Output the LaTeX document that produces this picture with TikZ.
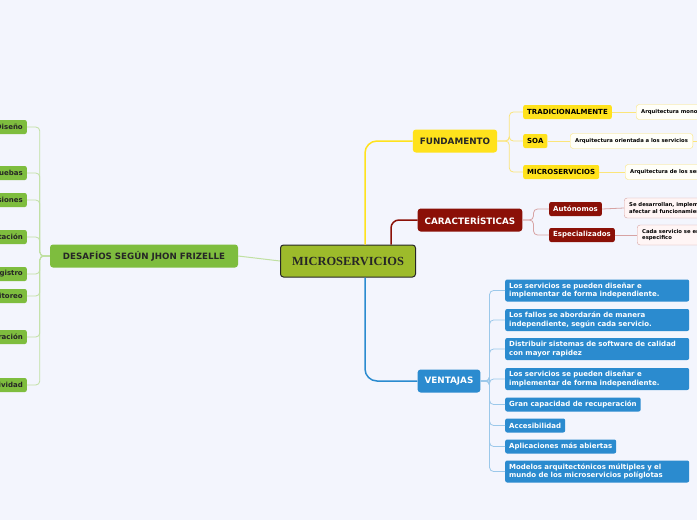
\documentclass[tikz,border=0pt]{standalone}
\usepackage{fontspec}
\setmainfont{DejaVu Sans}
\newfontfamily\rootfont{Liberation Serif}
\usetikzlibrary{positioning}
\definecolor{bg}{HTML}{F3F5FD}
\definecolor{rootgreen}{HTML}{9DBB2B}
\definecolor{fundyellow}{HTML}{FFE21C}
\definecolor{fundline}{HTML}{FBE57A}
\definecolor{caractred}{HTML}{8B1007}
\definecolor{caractline}{HTML}{D7A3A3}
\definecolor{ventblue}{HTML}{2B8BCF}
\definecolor{ventline}{HTML}{9BC8EA}
\definecolor{desafgreen}{HTML}{7EBD3E}
\definecolor{desafline}{HTML}{C0E0A2}

\begin{document}
\begin{tikzpicture}[
    x=1pt, y=-1pt,
    root/.style={draw=black!85, line width=1pt, fill=rootgreen, rounded corners=3pt, minimum width=135pt, minimum height=32pt, font=\rootfont\fontsize{12.4}{13}\selectfont\bfseries, text=black!85},
    topic/.style={rounded corners=3pt, minimum height=23pt, inner xsep=7pt, font=\fontsize{8.8}{10}\selectfont\bfseries},
    sub/.style={rounded corners=2pt, minimum height=14pt, inner xsep=4pt, inner ysep=1pt, font=\fontsize{7}{8.4}\selectfont\bfseries},
    leaf/.style={draw, rounded corners=3pt, inner xsep=5pt, inner ysep=2pt, minimum height=15pt, align=left, anchor=west, font=\fontsize{5.3}{6.3}\selectfont\bfseries},
    vbox/.style={sub, fill=ventblue, text=white, align=left, anchor=west, inner ysep=2pt},
    vwide/.style={vbox, text width=176pt, minimum height=22pt},
    gbox/.style={sub, fill=desafgreen, text=black!85, anchor=east},
    link/.style={line width=0.8pt, rounded corners=4pt},
    branch/.style={line width=1.5pt, rounded corners=12pt},
]
\fill[bg] (0,0) rectangle (697,520);
\clip (0,0) rectangle (697,520);

% Root and main topics
\node[root] (micro) at (348,261) {MICROSERVICIOS};
\node[topic, fill=fundyellow, text=black!85] (fund) at (455,141) {FUNDAMENTO};
\node[topic, fill=caractred, text=white] (caract) at (470,220) {CARACTERÍSTICAS};
\node[topic, fill=ventblue, text=white] (vent) at (449,381) {VENTAJAS};
\node[topic, fill=desafgreen, text=black!85, font=\fontsize{8.7}{10}\selectfont\bfseries, minimum width=188pt] (desaf) at (144,256) {DESAFÍOS SEGÚN JHON FRIZELLE};

% Fundamento
\node[sub, fill=fundyellow, anchor=west] (trad) at (523,112) {TRADICIONALMENTE};
\node[sub, fill=fundyellow, anchor=west] (soa) at (523,141) {SOA};
\node[sub, fill=fundyellow, anchor=west] (msrv) at (523,172) {MICROSERVICIOS};
\node[leaf, draw=fundline, fill=white!70!yellow!8] (tradtxt) at (636,112) {Arquitectura monolítica};
\node[leaf, draw=fundline, fill=white!70!yellow!8] (soatxt) at (570,141) {Arquitectura orientada a los servicios};
\node[leaf, draw=fundline, fill=white!70!yellow!8] (msrvtxt) at (625,172) {Arquitectura de los servicios};
\coordinate (soaend) at (720,141);

% Caracteristicas
\node[sub, fill=caractred, text=white, anchor=west] (auto) at (549,209) {Autónomos};
\node[sub, fill=caractred, text=white, anchor=west] (espec) at (549,235) {Especializados};
\node[leaf, draw=caractline, fill=red!4, minimum height=20pt] (autotxt) at (624,208) {Se desarrollan, implementan y escalan sin\\afectar al funcionamiento de otros};
\node[leaf, draw=caractline, fill=red!4, minimum height=20pt] (espectxt) at (637,235) {Cada servicio se encarga de un proceso\\especifico};

% Ventajas
\node[vwide] (v1) at (505,290.5) {Los servicios se pueden diseñar e\\implementar de forma independiente.};
\node[vwide] (v2) at (505,320) {Los fallos se abordarán de manera\\independiente, según cada servicio.};
\node[vwide] (v3) at (505,349) {Distribuir sistemas de software de calidad\\con mayor rapidez};
\node[vwide] (v4) at (505,379) {Los servicios se pueden diseñar e\\implementar de forma independiente.};
\node[vbox] (v5) at (505,404.5) {Gran capacidad de recuperación};
\node[vbox] (v6) at (505,425.5) {Accesibilidad};
\node[vbox] (v7) at (505,446.5) {Aplicaciones más abiertas};
\node[vwide] (v8) at (505,471.5) {Modelos arquitectónicos múltiples y el\\mundo de los microservicios políglotas};

% Desafios
\node[gbox] (d1) at (27,127) {Diseño};
\node[gbox] (d2) at (27,173) {Pruebas};
\node[gbox] (d3) at (27,200) {Versiones};
\node[gbox] (d4) at (27,237) {Documentación};
\node[gbox] (d5) at (27,274) {Registro};
\node[gbox] (d6) at (27,296) {Monitoreo};
\node[gbox] (d7) at (27,337) {Integración};
\node[gbox] (d8) at (27,385) {Productividad};

% Branches
\draw[branch, fundyellow] ([xshift=17pt]micro.north) |- (fund.west);
\draw[branch, caractred, rounded corners=8pt] ([xshift=43pt]micro.north) |- (caract.west);
\draw[branch, ventblue] ([xshift=17pt]micro.south) |- (vent.west);
\draw[link, desafline, line width=1pt] (micro.west) -- (desaf.east);

% Links
\foreach \c in {trad,soa,msrv}
  \draw[link, fundline] (fund.east) -- ++(12,0) |- (\c.west);
\foreach \c in {trad,soa,msrv}
  \draw[link, fundline] (\c.east) -- (\c txt.west);
\draw[link, fundline] (soatxt.east) -- (soaend);
\foreach \c in {auto,espec}
  \draw[link, caractline] (caract.east) -- ++(11,0) |- (\c.west);
\foreach \c in {auto,espec}
  \draw[link, caractline] (\c.east) -- (\c txt.west);
\foreach \c in {v1,v2,v3,v4,v5,v6,v7,v8}
  \draw[link, ventline] (vent.east) -- ++(9,0) |- (\c.west);
\foreach \c in {d1,d2,d3,d4,d5,d6,d7,d8}
  \draw[link, desafline] (desaf.west) -- ++(-10,0) |- (\c.east);

\end{tikzpicture}
\end{document}
